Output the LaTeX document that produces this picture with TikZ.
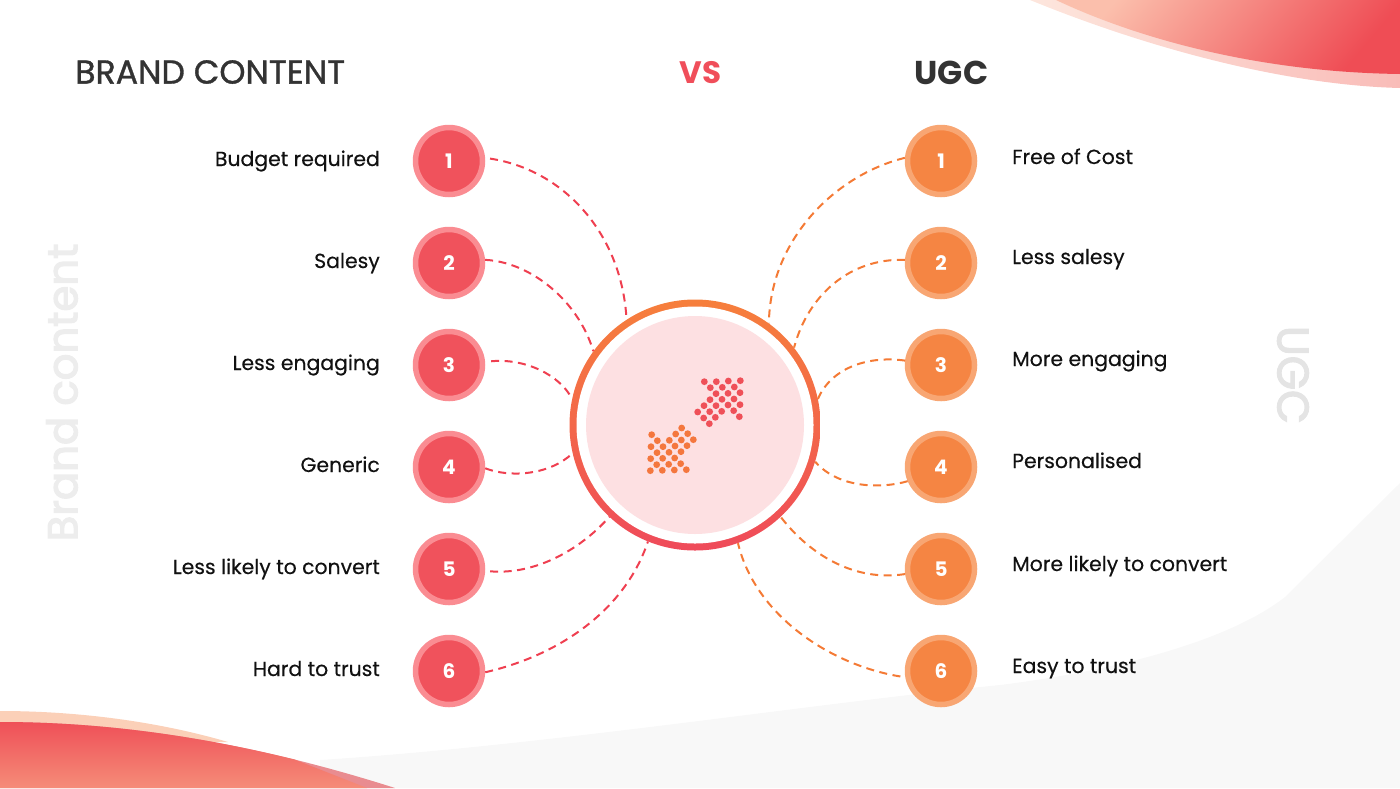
\documentclass[tikz,border=0pt]{standalone}
\usepackage{fontspec}
\setmainfont{Poppins}
\newfontfamily\semifont[FakeBold=0.35]{Poppins}
\newfontfamily\midfont[FakeBold=1.0]{Poppins}
\newfontfamily\wmfont[FakeBold=3.0]{Poppins}
\definecolor{redc}{HTML}{F0525C}
\definecolor{redl}{HTML}{FA8C92}
\definecolor{orc}{HTML}{F58543}
\definecolor{orl}{HTML}{F8A673}
\definecolor{dashred}{HTML}{EF3F50}
\definecolor{dashor}{HTML}{F47A35}
\definecolor{txt}{HTML}{111111}
\definecolor{ttl}{HTML}{333333}
\definecolor{vsc}{HTML}{F04E5A}
\definecolor{wma}{HTML}{EDEDED}
\definecolor{wmb}{HTML}{E4E4E4}
\definecolor{pinkc}{HTML}{FDE0E2}
\definecolor{gbg}{HTML}{F8F8F8}
\definecolor{palea}{HTML}{FDE6DD}
\definecolor{paleb}{HTML}{F9BCB8}
\definecolor{tra}{HTML}{FBBFAC}
\definecolor{trb}{HTML}{EF4D55}
\definecolor{peach}{HTML}{FBD0B8}
\definecolor{bla}{HTML}{EF5058}
\definecolor{blb}{HTML}{F58C78}
\definecolor{strip}{HTML}{E98C90}
\definecolor{ringa}{HTML}{F67F3C}
\definecolor{ringb}{HTML}{EF4A5A}
\definecolor{dotrc}{HTML}{EF5058}
\definecolor{dotoc}{HTML}{F4773E}
\tikzset{
  rednum/.style={circle,draw=redl,line width=5.5pt,fill=redc,minimum size=67pt,inner sep=0pt,text=white,font=\fontsize{20}{24}\selectfont\bfseries},
  ornum/.style={circle,draw=orl,line width=5.5pt,fill=orc,minimum size=67pt,inner sep=0pt,text=white,font=\fontsize{20}{24}\selectfont\bfseries},
  lablft/.style={anchor=east,inner sep=0pt,text=txt,text height=15pt,text depth=5pt,font=\semifont\fontsize{20.4}{26}\selectfont},
  labrgt/.style={anchor=west,inner sep=0pt,text=txt,text height=15pt,text depth=5pt,font=\semifont\fontsize{20.4}{26}\selectfont},
  dashr/.style={draw=dashred,line width=2pt,dash pattern=on 8pt off 5.5pt},
  dasho/.style={draw=dashor,line width=2pt,dash pattern=on 8pt off 5.5pt},
  ttlnode/.style={inner sep=0pt,font=\midfont\fontsize{33.2}{38}\selectfont},
  dotr/.style={fill=dotrc},
  doto/.style={fill=dotoc},
}
\begin{document}
\begin{tikzpicture}[x=1pt,y=-1pt]
\useasboundingbox (0,0) rectangle (1400,788);
% backgrounds
\fill[gbg] (1400,483) -- (1285,597) .. controls (1230,640) and (1120,670) .. (1000,685) .. controls (800,705) and (550,745) .. (320,760) -- (320,788) -- (1400,788) -- cycle;
\shade[shading=axis,left color=palea,right color=paleb,shading angle=90] (1030,0) .. controls (1140,45) and (1280,85) .. (1400,88) -- (1400,0) -- cycle;
\shade[shading=axis,left color=tra,right color=trb,shading angle=50] (1056,0) .. controls (1130,35) and (1250,72) .. (1400,74) -- (1400,0) -- cycle;
\fill[peach] (0,711) .. controls (80,711) and (160,722) .. (228,742) -- (0,745) -- cycle;
\fill[strip] (0,722) .. controls (130,722) and (260,745) .. (395,788) -- (0,788) -- cycle;
\shade[top color=bla,bottom color=blb] (0,722) .. controls (97.5,722) and (195,734.9) .. (294.6,759.5) -- (367,788) -- (0,788) -- cycle;
% hub
\shade[top color=ringa,bottom color=ringb,middle color=ringa!55!ringb] (695,425) circle[radius=125.5pt];
\node[circle,fill=white,minimum size=237pt,inner sep=0pt] (hubw) at (695,425) {};
\node[circle,fill=pinkc,minimum size=218pt,inner sep=0pt] (hubp) at (695,425) {};
\node[circle,minimum size=251pt,inner sep=0pt] (hub) at (695,425) {};
\begin{scope}[shift={(560,290)},x=0.33333pt,y=-0.33333pt]
\foreach \a/\b in {433/275,469/275,505/273,541/272,451/293,487/292,523/291,468/311,504/310,540/308,450/329,486/328,522/327,432/347,468/347,504/345,540/344,413/366,449/365,485/364,521/362,431/384,466/382,538/380,448/401}
  \fill[dotr] (\a,\b) circle[radius=3.4pt];
\foreach \a/\b in {365/414,347/432,383/431,275/434,292/452,328/451,364/450,400/449,273/470,309/470,345/468,381/467,291/488,327/487,363/485,272/506,308/505,344/504,290/524,326/523,362/521,271/542,307/541,343/540,379/539}
  \fill[doto] (\a,\b) circle[radius=3.4pt];
\end{scope}
% titles
\node[ttlnode,text=ttl,anchor=west] (t1) at (75,72) {BRAND CONTENT};
\node[ttlnode,text=vsc,font=\fontsize{31}{38}\selectfont\bfseries] (t2) at (700.5,73) {VS};
\node[ttlnode,text=ttl,font=\fontsize{33}{38}\selectfont\bfseries] (t3) at (951.5,73) {UGC};
% watermarks
\node[inner sep=0pt,text=wma,font=\wmfont\fontsize{41.8}{50}\selectfont,rotate=90] (w1) at (62,392.5) {Brand content};
\node[inner sep=0pt,text=wmb,font=\wmfont\fontsize{44}{50}\selectfont,rotate=-90] (w2) at (1293,375) {UGC};
% left column
\foreach \n/\y in {1/161,2/263,3/365,4/467,5/569,6/671}
  \node[rednum] (l\n) at (449,\y) {\n};
\node[lablft] (lt1) at (380,161) {Budget required};
\node[lablft] (lt2) at (380,263) {Salesy};
\node[lablft] (lt3) at (380,365) {Less engaging};
\node[lablft] (lt4) at (380,467) {Generic};
\node[lablft] (lt5) at (380,569) {Less likely to convert};
\node[lablft] (lt6) at (380,671) {Hard to trust};
% right column
\foreach \n/\y in {1/161,2/263,3/365,4/467,5/569,6/671}
  \node[ornum] (r\n) at (941,\y) {\n};
\node[labrgt] (rt1) at (1012,159) {Free of Cost};
\node[labrgt] (rt2) at (1012,259) {Less salesy};
\node[labrgt] (rt3) at (1012,361) {More engaging};
\node[labrgt] (rt4) at (1012,463) {Personalised};
\node[labrgt] (rt5) at (1012,566) {More likely to convert};
\node[labrgt] (rt6) at (1012,668) {Easy to trust};
% connectors left
\draw[dashr,shorten <=5pt] (l1.5) .. controls (565,170) and (622,235) .. (hub.123);
\draw[dashr] (l2.5) .. controls (530,262) and (578,300) .. (hub.144);
\draw[dashr,shorten <=6pt] (l3.5) .. controls (525,358) and (560,375) .. (hub.168);
\draw[dashr] (l4.-2) .. controls (510,478) and (550,475) .. (hub.193);
\draw[dashr,shorten <=5pt] (l5.-3) .. controls (535,575) and (580,550) .. (hub.227);
\draw[dashr] (l6.-2) .. controls (560,655) and (625,610) .. (hub.248);
% connectors right
\draw[dasho] (r1.175) .. controls (835,175) and (770,240) .. (hub.54);
\draw[dasho] (r2.175) .. controls (850,258) and (808,295) .. (hub.38);
\draw[dasho] (r3.173) .. controls (865,355) and (830,370) .. (hub.12);
\draw[dasho] (r4.203) .. controls (885,488) and (840,490) .. (hub.-17);
\draw[dasho] (r5.188) .. controls (855,582) and (810,555) .. (hub.-47);
\draw[dasho,shorten <=5pt] (r6.190) .. controls (830,665) and (755,615) .. (hub.-70);
\end{tikzpicture}
\end{document}
